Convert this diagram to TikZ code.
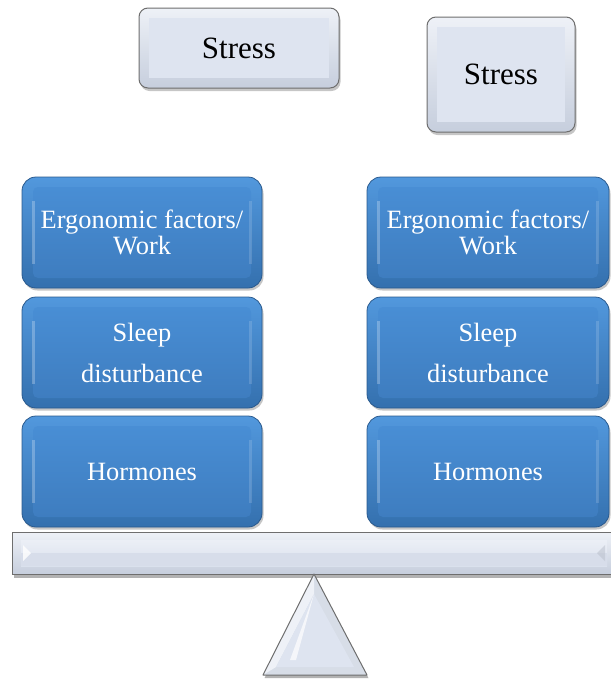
\documentclass[tikz,border=0pt]{standalone}
\usepackage{fontspec}
\setmainfont{Liberation Serif}
\newfontfamily\labelface{Liberation Serif}
\usetikzlibrary{shadows}

\definecolor{bluetop}{HTML}{5298DD}
\definecolor{bluebot}{HTML}{3470AE}
\definecolor{blueedge}{HTML}{2A5A8E}
\definecolor{facetop}{HTML}{4A90D7}
\definecolor{facebot}{HTML}{3D7BBD}
\definecolor{greytop}{HTML}{EEF1F7}
\definecolor{greybot}{HTML}{C6CEDD}
\definecolor{greyface}{HTML}{DEE4F0}
\definecolor{greyedge}{HTML}{6E6E6E}

\tikzset{
  factorbox/.style={
    rounded corners=14pt, top color=bluetop, bottom color=bluebot,
    draw=blueedge, line width=0.8pt, text=white,
    font=\labelface\fontsize{26.4}{27}\selectfont, align=center,
    minimum width=240pt, minimum height=111pt, inner sep=0pt,
    drop shadow={shadow xshift=1.5pt, shadow yshift=-2.5pt, opacity=0.45},
    path picture={
      \shade[top color=facetop, bottom color=facebot, rounded corners=5pt]
        ([shift={(11pt,-10pt)}]path picture bounding box.north west) rectangle
        ([shift={(-11pt,10pt)}]path picture bounding box.south east);
      \fill[white, opacity=0.25, sharp corners]
        ([shift={(10pt,-24pt)}]path picture bounding box.north west) rectangle
        ([shift={(13pt,24pt)}]path picture bounding box.south west);
      \fill[white, opacity=0.15, sharp corners]
        ([shift={(-13pt,-24pt)}]path picture bounding box.north east) rectangle
        ([shift={(-10pt,24pt)}]path picture bounding box.south east);
    }},
  stressbox/.style={
    rounded corners=9pt, top color=greytop, bottom color=greybot,
    draw=greyedge, line width=1pt, text=black,
    font=\labelface\fontsize{31}{32}\selectfont, align=center, inner sep=0pt,
    drop shadow={shadow xshift=1.5pt, shadow yshift=-3pt, opacity=0.45},
    path picture={
      \fill[greyface, sharp corners]
        ([shift={(10pt,-10pt)}]path picture bounding box.north west) rectangle
        ([shift={(-10pt,10pt)}]path picture bounding box.south east);
    }},
  frameline/.style={draw=greyedge, line width=1pt},
}

\begin{document}
\begin{tikzpicture}[x=1pt,y=-1pt]
\useasboundingbox (0,0) rectangle (611,681);
\begin{scope}
\clip (0,0) rectangle (611,681);

% loads resting on the beam
\node[stressbox, minimum width=200pt, minimum height=80pt] (stressL) at (239,48) {Stress};
\node[stressbox, minimum width=148pt, minimum height=115pt] (stressR) at (501,74.5) {Stress};

\node[factorbox] (ergoL)  at (142,232.5) {Ergonomic factors/\\[-1pt]Work};
\node[factorbox] (sleepL) at (142,352.5) {Sleep\\[14pt]disturbance};
\node[factorbox] (hormL)  at (142,471.5) {Hormones};

\node[factorbox, minimum width=242pt] (ergoR)  at (488,232.5) {Ergonomic factors/\\[-1pt]Work};
\node[factorbox, minimum width=242pt] (sleepR) at (488,352.5) {Sleep\\[14pt]disturbance};
\node[factorbox, minimum width=242pt] (hormR)  at (488,471.5) {Hormones};

% the beam
\coordinate (bnw) at (12,532);
\coordinate (bse) at (616,574);
\fill[black, opacity=0.3] (14,535) rectangle (619,578);
\shade[top color=greytop, bottom color=greybot] (bnw) rectangle (bse);
\shade[top color=greyface!60!white, bottom color=greyface!85!greybot] (21,540) rectangle (607,566);
\fill[greyface!70!greybot] (21,553) rectangle (607,566);
\fill[white, opacity=0.8] (23,545) -- (31,553) -- (23,561) -- cycle;
\fill[greybot!80!gray, opacity=0.5] (605,545) -- (597,553) -- (605,561) -- cycle;
\draw[frameline] (bnw) rectangle (bse);

% the fulcrum
\coordinate (apex) at (314,574);
\coordinate (bl) at (263,675);
\coordinate (br) at (367,675);
\fill[black, opacity=0.3] ([shift={(1.5pt,-3pt)}]apex) -- ([shift={(1.5pt,-3pt)}]bl) -- ([shift={(1.5pt,-3pt)}]br) -- cycle;
\fill[greybot!70!white] (apex) -- (bl) -- (br) -- cycle;
\fill[greytop] (apex) -- (bl) -- (276,667) -- (314,594) -- cycle;
\fill[greyface] (314,594) -- (276,667) -- (354,667) -- cycle;
\fill[white, opacity=0.7] (314,594) -- (290,660) -- (296,660) -- cycle;
\draw[frameline, line join=round] (apex) -- (bl) -- (br) -- cycle;
\end{scope}
\end{tikzpicture}
\end{document}
